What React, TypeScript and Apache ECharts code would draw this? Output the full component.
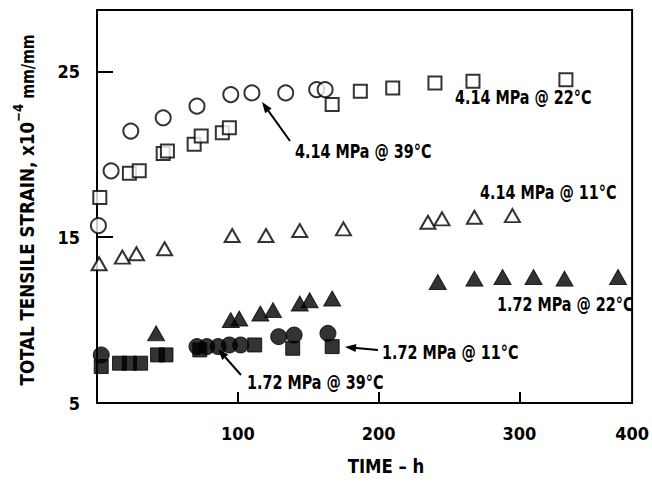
import React, { useEffect, useRef } from 'react';
import * as echarts from 'echarts';

const FONT = "'Liberation Sans Narrow', 'DejaVu Sans Condensed', 'Liberation Sans', sans-serif";

// 4.14 MPa @ 39°C (open circles)
const t414_39 = [1, 10, 24, 47, 71, 95, 110, 134, 156, 162];
const v414_39 = [15.7, 19.0, 21.4, 22.2, 22.9, 23.6, 23.7, 23.7, 23.9, 23.9];

// 4.14 MPa @ 22°C (open squares)
const t414_22 = [2, 23, 30, 47, 50, 69, 74, 89, 94, 167, 187, 210, 240, 267, 333];
const v414_22 = [17.4, 18.85, 19.0, 20.05, 20.2, 20.6, 21.1, 21.3, 21.6, 23.0, 23.8, 24.0, 24.3, 24.4, 24.5];

// 4.14 MPa @ 11°C (open triangles)
const t414_11 = [1.5, 18, 28, 48, 96, 120, 144, 175, 235, 245, 268, 295];
const v414_11 = [13.4, 13.8, 14.0, 14.3, 15.1, 15.1, 15.4, 15.5, 15.9, 16.1, 16.2, 16.3];

// 1.72 MPa @ 22°C (filled triangles)
const t172_22 = [42, 95, 101, 116, 125, 144, 151, 167, 242, 268, 288, 310, 332, 370];
const v172_22 = [9.2, 10.0, 10.1, 10.4, 10.6, 11.0, 11.2, 11.3, 12.3, 12.5, 12.6, 12.6, 12.5, 12.6];

// 1.72 MPa @ 39°C (filled circles)
const t172_39 = [3, 71, 78, 86, 94, 102, 129, 140, 164];
const v172_39 = [7.9, 8.4, 8.4, 8.4, 8.5, 8.5, 9.0, 9.1, 9.2];

// 1.72 MPa @ 11°C (filled squares)
const t172_11 = [3, 16, 23, 31, 43, 49, 73, 112, 139, 167];
const v172_11 = [7.2, 7.4, 7.4, 7.4, 7.9, 7.9, 8.2, 8.5, 8.3, 8.4];

const xLabelValues = [100, 200, 300, 380];
const xLabelTexts: Record<number, string> = { 100: '100', 200: '200', 300: '300', 380: '400' };
const yLabelValues = [5, 15, 25];
const yTickValues = [15, 25];

const zip = (a: number[], b: number[]) => a.map((x, i) => [x, b[i]]);

function arrow(x1: number, y1: number, x2: number, y2: number) {
  const dx = x2 - x1, dy = y2 - y1;
  const len = Math.sqrt(dx * dx + dy * dy);
  const ux = dx / len, uy = dy / len;
  const hl = 11, hw = 4;
  const bx = x2 - ux * hl, by = y2 - uy * hl;
  return {
    type: 'group',
    children: [
      { type: 'line', shape: { x1, y1, x2: bx, y2: by }, style: { stroke: '#000', lineWidth: 2 } },
      {
        type: 'polygon',
        shape: { points: [[x2, y2], [bx - uy * hw, by + ux * hw], [bx + uy * hw, by - ux * hw]] },
        style: { fill: '#000' },
      },
    ],
  };
}

function label(text: string, x: number, y: number) {
  return {
    type: 'text', x, y, scaleX: 0.84,
    style: { text, fill: '#000', fontSize: 19, fontWeight: 'bold', fontFamily: FONT, align: 'left', verticalAlign: 'middle' },
  };
}

export default function App() {
  const ref = useRef<HTMLDivElement>(null);
  useEffect(() => {
    if (!ref.current) return;
    const chart = echarts.init(ref.current, null, { renderer: 'svg' });
    const open = { color: '#fff', borderColor: '#000', borderWidth: 2 };
    const filled = { color: '#000', borderColor: '#000', borderWidth: 1 };
    chart.setOption({
      animation: false,
      backgroundColor: '#fff',
      grid: { left: 97, right: 10, top: 10, bottom: 81, show: true, borderColor: '#000', borderWidth: 2 },
      xAxis: {
        type: 'value', min: 0, max: 380, interval: 100,
        axisLine: { lineStyle: { color: '#000', width: 2 } },
        axisTick: { inside: true, length: 11, customValues: [100, 200, 300], lineStyle: { color: '#000', width: 2 } },
        axisLabel: {
          customValues: xLabelValues, margin: 21,
          formatter: (v: number) => xLabelTexts[v] ?? '',
          color: '#000', fontSize: 18, fontWeight: 'bold', fontFamily: FONT,
        },
        splitLine: { show: false },
      },
      yAxis: {
        type: 'value', min: 5, max: 28.7, interval: 5,
        axisLine: { lineStyle: { color: '#000', width: 2 } },
        axisTick: { inside: true, length: 16, customValues: yTickValues, lineStyle: { color: '#000', width: 2 } },
        axisLabel: {
          customValues: yLabelValues, margin: 17,
          color: '#000', fontSize: 18, fontWeight: 'bold', fontFamily: FONT,
        },
        splitLine: { show: false },
      },
      series: [
        { name: '4.14 MPa @ 39°C', type: 'scatter', symbol: 'circle', symbolSize: 15, itemStyle: open, data: zip(t414_39, v414_39) },
        { name: '4.14 MPa @ 22°C', type: 'scatter', symbol: 'rect', symbolSize: 13, itemStyle: open, data: zip(t414_22, v414_22) },
        { name: '4.14 MPa @ 11°C', type: 'scatter', symbol: 'triangle', symbolSize: [15, 13], itemStyle: open, data: zip(t414_11, v414_11) },
        { name: '1.72 MPa @ 22°C', type: 'scatter', symbol: 'triangle', symbolSize: [17, 15], itemStyle: filled, data: zip(t172_22, v172_22) },
        { name: '1.72 MPa @ 11°C', type: 'scatter', symbol: 'rect', symbolSize: 14, itemStyle: filled, data: zip(t172_11, v172_11) },
        { name: '1.72 MPa @ 39°C', type: 'scatter', symbol: 'circle', symbolSize: 16, itemStyle: filled, data: zip(t172_39, v172_39) },
      ],
      graphic: [
        {
          type: 'text', x: 24, y: 210, rotation: Math.PI / 2, scaleX: 0.93,
          style: {
            text: '{a|TOTAL TENSILE STRAIN, x10}{s|−4}{b| mm/mm}',
            align: 'center', verticalAlign: 'middle', fill: '#000',
            rich: {
              a: { fontSize: 20, fontWeight: 'bold', fontFamily: FONT, lineHeight: 26, verticalAlign: 'bottom' },
              s: { fontSize: 14, fontWeight: 'bold', fontFamily: FONT, lineHeight: 14, verticalAlign: 'top' },
              b: { fontSize: 17, fontWeight: 'bold', fontFamily: FONT, lineHeight: 22, verticalAlign: 'bottom' },
            },
          },
        },
        {
          type: 'text', x: 386, y: 466, scaleX: 0.92,
          style: { text: 'TIME – h', fill: '#000', fontSize: 20, fontWeight: 'bold', fontFamily: FONT, align: 'center', verticalAlign: 'middle' },
        },
        label('4.14 MPa @ 39°C', 295, 152),
        label('4.14 MPa @ 22°C', 455, 98),
        label('4.14 MPa @ 11°C', 480, 193),
        label('1.72 MPa @ 22°C', 497, 305),
        label('1.72 MPa @ 11°C', 382, 353),
        label('1.72 MPa @ 39°C', 247, 383),
        arrow(290, 141, 262, 102),
        arrow(378, 350, 345, 347),
        arrow(241, 375, 218, 349),
      ],
    });
    return () => chart.dispose();
  }, []);
  return <div ref={ref} style={{ width: 652, height: 484, position: 'absolute', left: 0, top: 0 }} />;
}
